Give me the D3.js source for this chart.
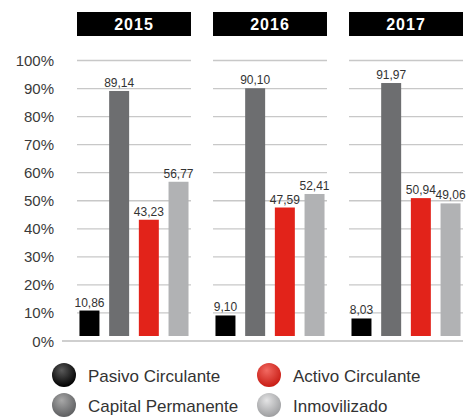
<!DOCTYPE html>
<html>
<head>
<meta charset="utf-8">
<script src="https://cdn.jsdelivr.net/npm/d3@7/dist/d3.min.js"></script>
<style>
  html, body { margin: 0; padding: 0; background: #fff; }
  svg { display: block; font-family: "Liberation Sans", Arial, Helvetica, sans-serif; }
</style>
</head>
<body>
<svg id="chart" width="475" height="417"></svg>
<script>
const years = ["2015", "2016", "2017"];
const series = ["Pasivo Circulante", "Capital Permanente", "Activo Circulante", "Inmovilizado"];
const pasivoCirculante = [10.86, 9.10, 8.03];
const capitalPermanente = [89.14, 90.10, 91.97];
const activoCirculante = [43.23, 47.59, 50.94];
const inmovilizado = [56.77, 52.41, 49.06];
const seriesValues = [pasivoCirculante, capitalPermanente, activoCirculante, inmovilizado];
const yTicks = [0, 10, 20, 30, 40, 50, 60, 70, 80, 90, 100];
const legendOrder = ["Pasivo Circulante", "Activo Circulante", "Capital Permanente", "Inmovilizado"];

const colors = {
  "Pasivo Circulante": "#000000",
  "Capital Permanente": "#6d6e70",
  "Activo Circulante": "#e2231a",
  "Inmovilizado": "#b1b2b4"
};
const gradStops = {
  "Pasivo Circulante": ["#5a5a5a", "#000000"],
  "Capital Permanente": ["#a8a8a8", "#5e5f61"],
  "Activo Circulante": ["#f26a62", "#c81c14"],
  "Inmovilizado": ["#e4e4e5", "#9d9ea0"]
};

const fmt = v => v.toFixed(2).replace(".", ",");

const svg = d3.select("#chart");
const y = d3.scaleLinear().domain([0, 100]).range([341, 60.5]);
const xYear = d3.scaleBand().domain(years).range([77, 463]).paddingInner(0.162).paddingOuter(0);
const xSeries = d3.scaleBand().domain(series).range([0, xYear.bandwidth()]).paddingInner(0.327).paddingOuter(0.083);

// y tick labels
svg.append("g").selectAll("text").data(yTicks).join("text")
  .attr("x", 54).attr("y", d => y(d) + 5.5)
  .attr("text-anchor", "end")
  .attr("font-size", 15).attr("fill", "#3a3a3a")
  .text(d => d + "%");

const panels = svg.append("g").selectAll("g").data(years).join("g")
  .attr("transform", d => `translate(${xYear(d)},0)`);

// header boxes
panels.append("rect")
  .attr("x", 0).attr("y", 12).attr("width", xYear.bandwidth()).attr("height", 24)
  .attr("fill", "#000");
panels.append("text")
  .attr("x", xYear.bandwidth() / 2).attr("y", 30)
  .attr("text-anchor", "middle").attr("font-size", 16).attr("font-weight", "bold")
  .attr("letter-spacing", 1).attr("fill", "#fff")
  .text(d => d);

// gridlines
panels.each(function() {
  d3.select(this).selectAll("line.grid").data(yTicks.filter(t => t > 0)).join("line")
    .attr("class", "grid")
    .attr("x1", 0).attr("x2", xYear.bandwidth())
    .attr("y1", d => y(d)).attr("y2", d => y(d))
    .attr("stroke", "#c8c8c8").attr("stroke-width", 1.3);
});

// bars and labels
panels.each(function(year, yi) {
  const g = d3.select(this);
  const data = series.map((s, si) => ({ s, v: seriesValues[si][yi] }));
  g.selectAll("rect.bar").data(data).join("rect")
    .attr("class", "bar")
    .attr("x", d => xSeries(d.s)).attr("width", xSeries.bandwidth())
    .attr("y", d => y(d.v)).attr("height", d => y(0) - 5 - y(d.v))
    .attr("fill", d => colors[d.s]);
  g.selectAll("text.val").data(data).join("text")
    .attr("class", "val")
    .attr("x", d => xSeries(d.s) + xSeries.bandwidth() / 2)
    .attr("y", d => y(d.v) - 4)
    .attr("text-anchor", "middle").attr("font-size", 12).attr("fill", "#333")
    .text(d => fmt(d.v));
});

// base axis line
svg.append("line")
  .attr("x1", 62).attr("x2", 463).attr("y1", y(0)).attr("y2", y(0))
  .attr("stroke", "#cfcfcf").attr("stroke-width", 2);

// legend gradients
const defs = svg.append("defs");
legendOrder.forEach((s, i) => {
  const gr = defs.append("radialGradient").attr("id", "lg" + i)
    .attr("cx", "45%").attr("cy", "35%").attr("r", "65%").attr("fx", "40%").attr("fy", "30%");
  gr.append("stop").attr("offset", "0%").attr("stop-color", gradStops[s][0]);
  gr.append("stop").attr("offset", "100%").attr("stop-color", gradStops[s][1]);
});

const legendX = [64, 269];
const legendY = [375, 405];
const leg = svg.append("g").selectAll("g").data(legendOrder).join("g")
  .attr("transform", (d, i) => `translate(${legendX[i % 2]},${legendY[Math.floor(i / 2)]})`);
leg.append("circle").attr("r", 12).attr("fill", (d, i) => `url(#lg${i})`);
leg.append("text").attr("x", 24).attr("y", 7)
  .attr("font-size", 17).attr("fill", "#333")
  .text(d => d);
</script>
</body>
</html>
